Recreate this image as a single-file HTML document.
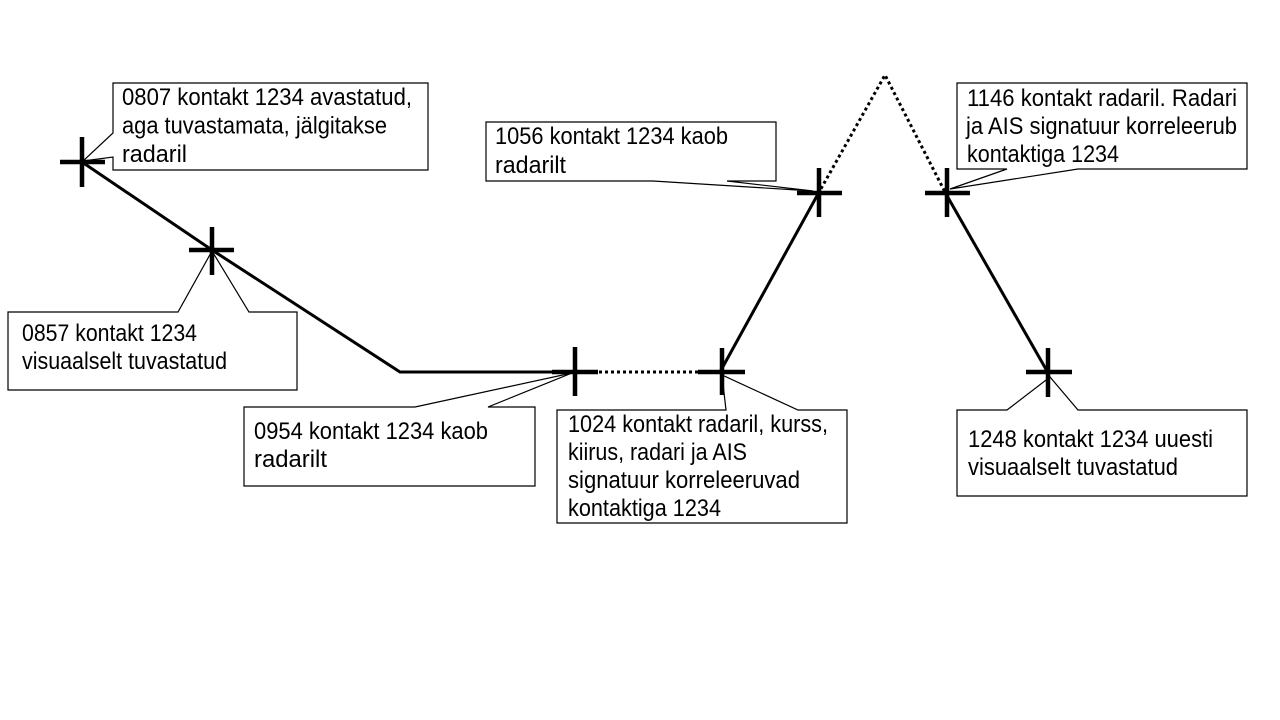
<!DOCTYPE html>
<html>
<head>
<meta charset="utf-8">
<style>
html,body{margin:0;padding:0;background:#fff;}
svg{display:block;}
text{font-family:"Liberation Sans",sans-serif;font-size:24px;fill:#000;}
</style>
</head>
<body>
<svg width="1280" height="720" viewBox="0 0 1280 720" xmlns="http://www.w3.org/2000/svg">
<rect width="1280" height="720" fill="#fff"/>

<!-- callouts -->
<g fill="#fff" stroke="#000" stroke-width="1.2" stroke-linejoin="miter">
  <path d="M113,83 H428 V170 H113 V157 L83,161 L113,133 Z"/>
  <path d="M8,312 H178 L212,251 L249,312 H297 V390 H8 Z"/>
  <path d="M244,407 H415 L572,373 L488,407 H535 V486 H244 Z"/>
  <path d="M557,410 H726 L722,375 L798,410 H847 V523 H557 Z"/>
  <path d="M486,122 H776 V181 H727 L813,191 L653,181 H486 Z"/>
  <path d="M957,83 H1247 V169 H1078 L950,189 L1007,169 H957 Z"/>
  <path d="M957,410 H1007 L1050,377 L1078,410 H1247 V496 H957 Z"/>
</g>

<!-- track lines -->
<g fill="none" stroke="#000" stroke-width="3" stroke-linecap="butt" stroke-linejoin="miter">
  <polyline points="82,162 212,250 400,372 577,372"/>
  <line x1="720" y1="372" x2="818" y2="194"/>
  <line x1="946" y1="194" x2="1047" y2="371"/>
</g>
<g fill="none" stroke="#000" stroke-width="3" stroke-dasharray="3 3">
  <line x1="599" y1="372" x2="698" y2="372"/>
  <polyline points="818,194 885,75 946,194"/>
</g>

<!-- crosses -->
<g stroke="#000" stroke-width="4.5" fill="none">
  <line x1="60" y1="162" x2="105" y2="162"/><line x1="82" y1="137" x2="82" y2="187"/>
  <line x1="189" y1="250" x2="234" y2="250"/><line x1="212" y1="227" x2="212" y2="275"/>
  <line x1="552" y1="372" x2="598" y2="372"/><line x1="575" y1="347" x2="575" y2="396"/>
  <line x1="698" y1="372" x2="745" y2="372"/><line x1="722" y1="348" x2="722" y2="395"/>
  <line x1="797" y1="193" x2="842" y2="193"/><line x1="819" y1="168" x2="819" y2="217"/>
  <line x1="925" y1="193" x2="970" y2="193"/><line x1="947" y1="168" x2="947" y2="217"/>
  <line x1="1026" y1="372" x2="1072" y2="372"/><line x1="1048" y1="348" x2="1048" y2="397"/>
</g>

<!-- texts -->
<text x="122" y="105" textLength="290" lengthAdjust="spacingAndGlyphs">0807 kontakt 1234 avastatud,</text>
<text x="122" y="133.5" textLength="265" lengthAdjust="spacingAndGlyphs">aga tuvastamata, jälgitakse</text>
<text x="122" y="162" textLength="65" lengthAdjust="spacingAndGlyphs">radaril</text>

<text x="22" y="341" textLength="175" lengthAdjust="spacingAndGlyphs">0857 kontakt 1234</text>
<text x="22" y="369" textLength="205" lengthAdjust="spacingAndGlyphs">visuaalselt tuvastatud</text>

<text x="254" y="439" textLength="234" lengthAdjust="spacingAndGlyphs">0954 kontakt 1234 kaob</text>
<text x="254" y="467" textLength="73" lengthAdjust="spacingAndGlyphs">radarilt</text>

<text x="568" y="432" textLength="260" lengthAdjust="spacingAndGlyphs">1024 kontakt radaril, kurss,</text>
<text x="568" y="460" textLength="179" lengthAdjust="spacingAndGlyphs">kiirus, radari ja AIS</text>
<text x="568" y="488" textLength="232" lengthAdjust="spacingAndGlyphs">signatuur korreleeruvad</text>
<text x="568" y="516" textLength="153" lengthAdjust="spacingAndGlyphs">kontaktiga 1234</text>

<text x="495" y="144" textLength="233" lengthAdjust="spacingAndGlyphs">1056 kontakt 1234 kaob</text>
<text x="495" y="173" textLength="71" lengthAdjust="spacingAndGlyphs">radarilt</text>

<text x="967" y="106" textLength="270" lengthAdjust="spacingAndGlyphs">1146 kontakt radaril. Radari</text>
<text x="966" y="134" textLength="271" lengthAdjust="spacingAndGlyphs">ja AIS signatuur korreleerub</text>
<text x="967" y="162" textLength="152" lengthAdjust="spacingAndGlyphs">kontaktiga 1234</text>

<text x="968" y="447" textLength="245" lengthAdjust="spacingAndGlyphs">1248 kontakt 1234 uuesti</text>
<text x="968" y="475" textLength="210" lengthAdjust="spacingAndGlyphs">visuaalselt tuvastatud</text>
</svg>
</body>
</html>
